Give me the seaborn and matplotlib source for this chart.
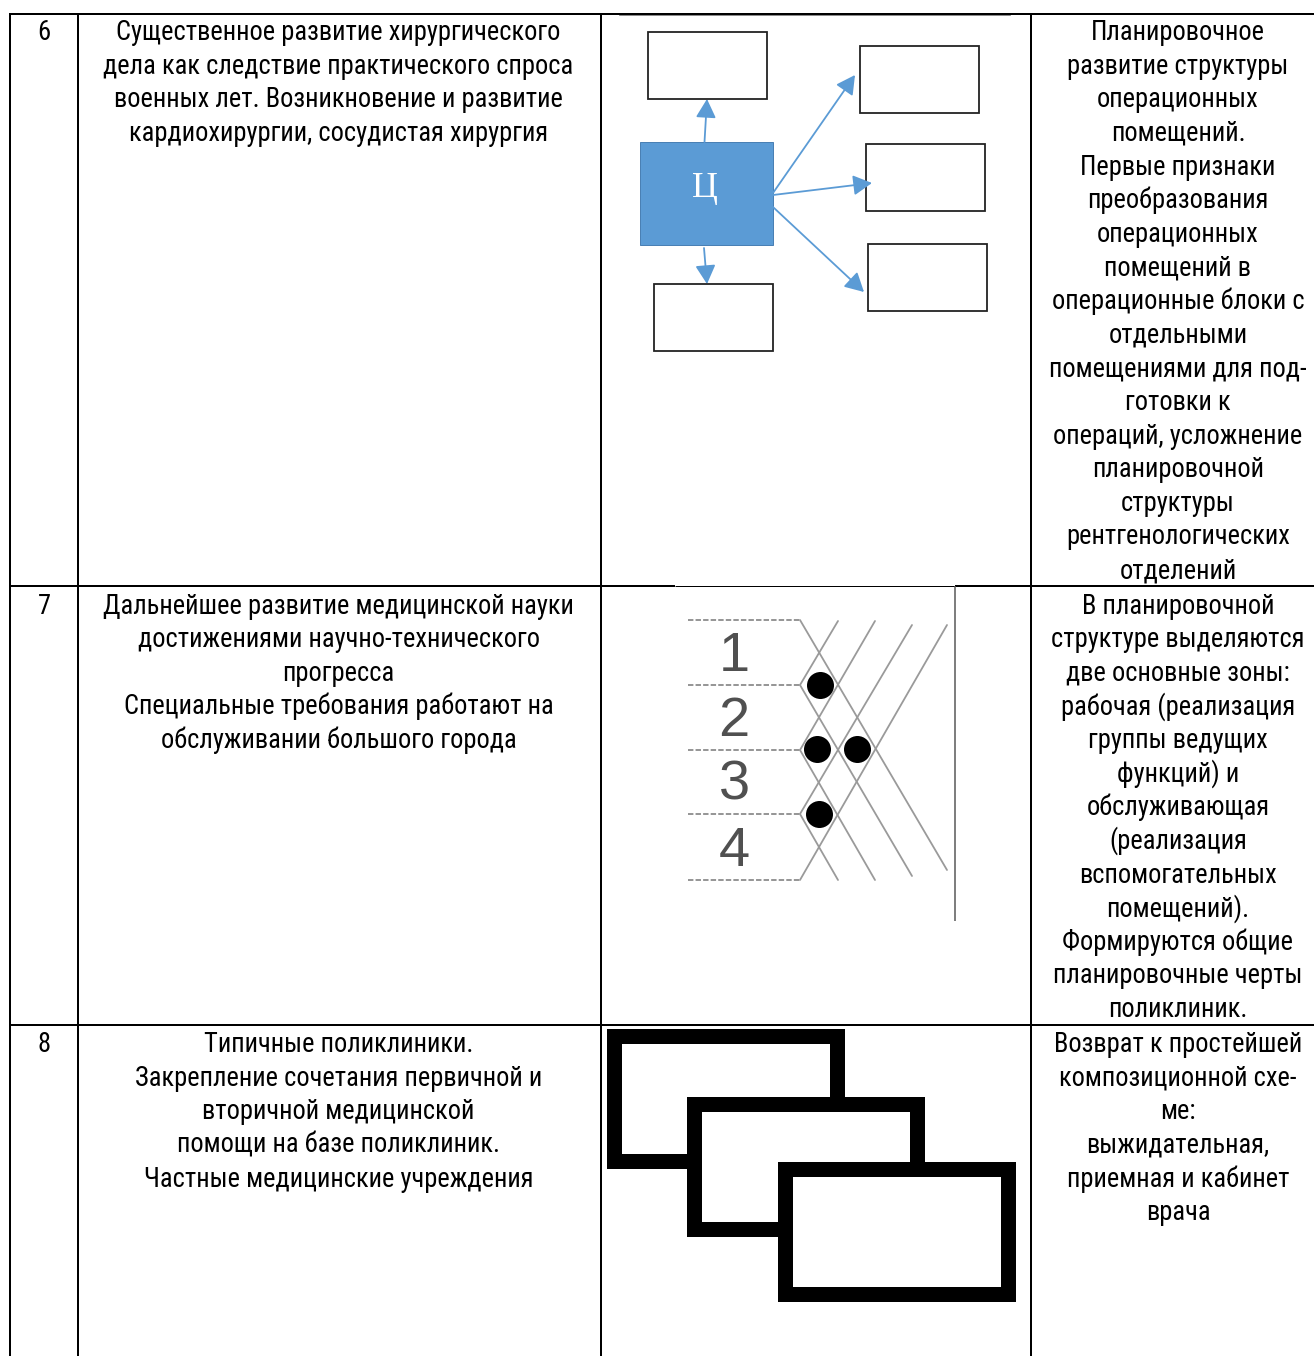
import matplotlib
matplotlib.use("Agg")
import matplotlib.pyplot as plt
import pandas as pd
import seaborn as sns
from matplotlib.patches import Rectangle, FancyArrowPatch

# Table text
row_numbers = ["6", "7", "8"]
row6_left = ["Существенное развитие хирургического",
             "дела как следствие практического спроса",
             "военных лет. Возникновение и развитие",
             "кардиохирургии, сосудистая хирургия"]
row7_left = ["Дальнейшее развитие медицинской науки",
             "достижениями научно-технического",
             "прогресса",
             "Специальные требования работают на",
             "обслуживании большого города"]
row8_left = ["Типичные поликлиники.",
             "Закрепление сочетания первичной и",
             "вторичной медицинской",
             "помощи на базе поликлиник.",
             "Частные медицинские учреждения"]
row6_right = ["Планировочное", "развитие структуры", "операционных", "помещений.",
              "Первые признаки", "преобразования", "операционных", "помещений в",
              "операционные блоки с", "отдельными", "помещениями для под-", "готовки к",
              "операций, усложнение", "планировочной", "структуры",
              "рентгенологических", "отделений"]
row7_right = ["В планировочной", "структуре выделяются", "две основные зоны:",
              "рабочая (реализация", "группы ведущих", "функций) и", "обслуживающая",
              "(реализация", "вспомогательных", "помещений).", "Формируются общие",
              "планировочные черты", "поликлиник."]
row8_right = ["Возврат к простейшей", "композиционной схе-", "ме:", "выжидательная,",
              "приемная и кабинет", "врача"]
scheme_center = "Ц"
scheme_digits = ["1", "2", "3", "4"]

sns.set_theme(style="white")
plt.rcParams["font.family"] = ["Roboto Condensed", "Liberation Sans", "DejaVu Sans"]

fig = plt.figure(figsize=(13.14, 13.56), dpi=100)
ax = fig.add_axes([0, 0, 1, 1])
ax.set_xlim(0, 1314)
ax.set_ylim(1356, 0)
ax.axis("off")

PX = 72 / 100  # one pixel in points
FS = 26.5 * PX
LINE = 33.63


def column(lines, x, first_base):
    for i, line in enumerate(lines):
        ax.text(x, first_base + i * LINE, line, ha="center", va="baseline",
                fontsize=FS, color="black")


# grid
for x in [10, 78, 600.5, 1031]:
    ax.plot([x, x], [13, 1356], color="black", lw=2 * PX, solid_capstyle="butt")
for y in [13.5, 586, 1025]:
    ax.plot([9, 1314], [y, y], color="black", lw=2 * PX, solid_capstyle="butt")

# cell text
for num, y in zip(row_numbers, [40, 613.5, 1052]):
    ax.text(44, y, num, ha="center", va="baseline", fontsize=FS, color="black")
column(row6_left, 338.5, 40)
column(row7_left, 338.5, 613.5)
column(row8_left, 338.5, 1052)
column(row6_right, 1178, 40)
column(row7_right, 1178, 613.5)
column(row8_right, 1178, 1052)

# scheme in row 6
ax.plot([619, 1010], [15, 15], color="#8a8a8a", lw=1 * PX)
for x0, y0 in [(648, 32), (860, 46), (866, 144), (868, 244), (654, 284)]:
    ax.add_patch(Rectangle((x0, y0), 119, 66.5, fc="white", ec="#222222", lw=1.8 * PX))
ax.add_patch(Rectangle((640, 142), 133, 103, fc="#5B9BD5", ec="#4a80b4", lw=1 * PX))
ax.text(705, 197, scheme_center, ha="center", va="baseline", color="white",
        fontsize=36 * PX, family=["Liberation Serif", "DejaVu Serif"])
for start, end in [((704.5, 142), (707, 99)), ((704, 248), (707, 284)),
                   ((773, 193), (855, 75)), ((773, 195), (872, 183)),
                   ((773, 207), (864, 292))]:
    ax.add_patch(FancyArrowPatch(start, end, arrowstyle="-|>,head_length=0.52,head_width=0.28",
                                 mutation_scale=22, color="#5B9BD5", lw=1.8 * PX,
                                 shrinkA=0, shrinkB=0))

# scheme in row 7
ax.plot([675, 955], [586, 586], color="white", lw=2.5 * PX, solid_capstyle="butt")
ax.plot([675, 955], [586, 586], color="black", lw=1 * PX, solid_capstyle="butt")
ax.plot([955, 955], [586, 921], color="#555555", lw=1.5 * PX, solid_capstyle="butt")
for y in [620, 685, 750, 814, 880]:
    ax.plot([688, 800], [y, y], color="#8c8c8c", lw=1.8 * PX, ls=(0, (3, 1.2)))
for y0, x1, y1 in [(880, 947, 625), (814, 912, 625), (750, 875, 621), (685, 838, 621),
                   (620, 947, 870), (685, 912, 876), (750, 875, 880), (814, 838, 880)]:
    ax.plot([800, x1], [y0, y1], color="#9a9a9a", lw=1.8 * PX)
for d, y in zip(scheme_digits, [671, 736, 800, 866]):
    ax.text(734, y, d, ha="center", va="baseline", fontsize=56 * PX, color="#505050",
            family=["Liberation Sans", "DejaVu Sans"])
dots = pd.DataFrame({"x": [820, 817, 857, 819], "y": [685, 749, 749, 814]})
sns.scatterplot(data=dots, x="x", y="y", ax=ax, s=(27 * PX) ** 2, color="black",
                linewidth=0, legend=False, zorder=5)
ax.set_xlabel("")
ax.set_ylabel("")

# scheme in row 8
for x0, y0 in [(614, 1036), (694, 1104), (784.5, 1168.5)]:
    ax.add_patch(Rectangle((x0, y0), 223, 125, fc="white", ec="black", lw=15 * PX,
                           joinstyle="miter", zorder=3))

fig.savefig("out.png", dpi=100)
